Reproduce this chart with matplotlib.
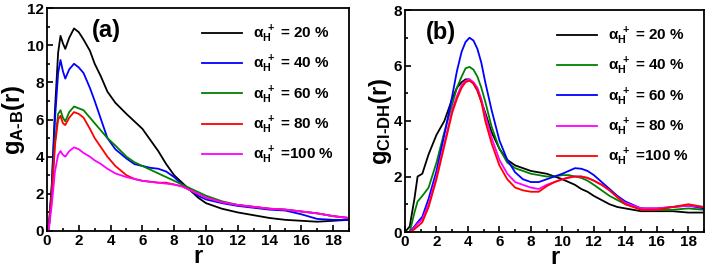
import numpy as np
import matplotlib
matplotlib.use("Agg")
import matplotlib.pyplot as plt
from matplotlib.ticker import MultipleLocator

plt.rcParams['font.family'] = ['Liberation Sans', 'DejaVu Sans']
plt.rcParams['font.weight'] = 'bold'
plt.rcParams['mathtext.fontset'] = 'custom'
plt.rcParams['mathtext.rm'] = 'Liberation Sans:bold'
plt.rcParams['mathtext.bf'] = 'Liberation Sans:bold'
plt.rcParams['mathtext.it'] = 'Liberation Sans:bold'
plt.rcParams['mathtext.default'] = 'bf'

# panel (a) data
r_a = [0, 0.1, 0.3, 0.5, 0.7, 0.85, 1.0, 1.15, 1.4, 1.7, 2.0, 2.3, 2.7, 3.0, 3.4, 3.8, 4.3, 5.0, 5.5,
       6.0, 6.5, 7.0, 7.5, 8.0, 8.5, 9.0, 9.5, 10.0, 11.0, 12.0, 13.0, 14.0, 15.0, 16.0, 17.0, 18.0, 19.0]
g_a20 = [0, 0, 2.5, 6.5, 9.6, 10.5, 10.1, 9.8, 10.4, 10.9, 10.7, 10.3, 9.7, 9.0, 8.3, 7.5, 6.9, 6.3, 5.9,
         5.5, 4.9, 4.3, 3.6, 3.0, 2.6, 2.2, 1.8, 1.5, 1.2, 1.0, 0.85, 0.7, 0.6, 0.55, 0.5, 0.55, 0.6]
g_a40 = [0, 0, 2.3, 6.0, 8.5, 9.2, 8.6, 8.2, 8.7, 9.0, 8.8, 8.5, 7.7, 7.0, 6.0, 5.0, 4.4, 3.9, 3.6,
         3.5, 3.4, 3.35, 3.2, 2.9, 2.5, 2.2, 1.9, 1.7, 1.5, 1.35, 1.25, 1.15, 1.1, 0.9, 0.65, 0.6, 0.6]
g_a60 = [0, 0, 2.0, 4.8, 6.3, 6.5, 6.1, 5.9, 6.4, 6.7, 6.6, 6.5, 6.1, 5.8, 5.4, 5.0, 4.6, 4.0, 3.7,
         3.5, 3.3, 3.1, 2.9, 2.7, 2.5, 2.3, 2.1, 1.9, 1.6, 1.4, 1.3, 1.2, 1.15, 1.05, 0.95, 0.8, 0.7]
g_a80 = [0, 0, 1.9, 4.6, 6.0, 6.2, 5.8, 5.7, 6.1, 6.4, 6.3, 6.1, 5.5, 5.0, 4.5, 4.0, 3.5, 3.0, 2.8,
         2.7, 2.65, 2.6, 2.6, 2.5, 2.4, 2.2, 2.0, 1.8, 1.55, 1.4, 1.3, 1.2, 1.15, 1.05, 0.95, 0.8, 0.7]
g_a100 = [0, 0, 1.4, 3.2, 4.1, 4.3, 4.1, 4.0, 4.3, 4.5, 4.4, 4.2, 4.0, 3.8, 3.6, 3.35, 3.1, 2.9, 2.8,
          2.7, 2.65, 2.6, 2.55, 2.5, 2.4, 2.2, 2.0, 1.8, 1.55, 1.4, 1.3, 1.2, 1.15, 1.05, 0.95, 0.8, 0.7]

# panel (b) data
r_b = [0, 0.3, 0.6, 0.8, 1.1, 1.5, 2.0, 2.5, 3.0, 3.3, 3.6, 3.85, 4.1, 4.35, 4.6, 4.85, 5.1, 5.5, 6.0,
       6.5, 7.0, 7.5, 8.0, 8.5, 9.0, 9.5, 10.0, 10.4, 10.8, 11.2, 11.6, 12.0, 12.5, 13.0, 13.5, 14.0,
       15.0, 16.0, 17.0, 18.0, 19.0]
g_b20 = [0, 0.2, 1.2, 2.0, 2.1, 2.8, 3.5, 4.0, 4.8, 5.2, 5.4, 5.5, 5.5, 5.35, 5.1, 4.7, 4.3, 3.6, 3.0,
         2.6, 2.4, 2.3, 2.2, 2.15, 2.1, 2.0, 1.9, 1.8, 1.7, 1.55, 1.45, 1.3, 1.15, 1.0, 0.9, 0.85,
         0.75, 0.75, 0.75, 0.7, 0.7]
g_b40 = [0, 0, 0.7, 1.1, 1.3, 1.6, 2.5, 3.6, 4.6, 5.2, 5.6, 5.9, 5.95, 5.85, 5.6, 5.2, 4.7, 3.8, 3.0,
         2.5, 2.3, 2.2, 2.1, 2.05, 2.0, 2.0, 2.05, 2.05, 2.0, 1.95, 1.85, 1.7, 1.5, 1.3, 1.15, 1.0,
         0.85, 0.8, 0.8, 0.85, 0.8]
g_b60 = [0, 0, 0.2, 0.35, 0.55, 1.2, 2.2, 3.5, 4.9, 5.8, 6.5, 6.85, 7.0, 6.9, 6.6, 6.1, 5.4, 4.4, 3.3,
         2.6, 2.15, 1.9, 1.8, 1.8, 1.9, 2.0, 2.1, 2.2, 2.3, 2.28, 2.2, 2.05, 1.8, 1.55, 1.3, 1.1,
         0.85, 0.85, 0.9, 0.95, 0.85]
g_b80 = [0, 0, 0.15, 0.3, 0.45, 1.0, 2.0, 3.2, 4.4, 4.9, 5.3, 5.45, 5.5, 5.4, 5.2, 4.8, 4.2, 3.4, 2.6,
         2.1, 1.8, 1.7, 1.6, 1.55, 1.7, 1.8, 1.9, 1.95, 2.0, 2.0, 1.95, 1.85, 1.7, 1.5, 1.25, 1.05,
         0.85, 0.85, 0.9, 0.95, 0.9]
g_b100 = [0, 0, 0.1, 0.2, 0.35, 0.9, 1.9, 3.1, 4.3, 4.8, 5.2, 5.4, 5.45, 5.35, 5.1, 4.7, 4.0, 3.2, 2.4,
          1.9, 1.6, 1.5, 1.45, 1.45, 1.65, 1.8, 1.9, 1.97, 2.0, 2.0, 1.95, 1.85, 1.7, 1.5, 1.25, 1.0,
          0.8, 0.8, 0.9, 1.0, 0.9]

labels = [r'$\alpha_{H}^{\ +}$ = 20 %', r'$\alpha_{H}^{\ +}$ = 40 %', r'$\alpha_{H}^{\ +}$ = 60 %',
          r'$\alpha_{H}^{\ +}$ = 80 %', r'$\alpha_{H}^{\ +}$ =100 %']

fig = plt.figure(figsize=(7.08, 2.73), dpi=100)
ax1 = fig.add_axes([47 / 708, 1 - 231 / 273, 302 / 708, 223 / 273])
ax2 = fig.add_axes([405 / 708, 1 - 232 / 273, 299 / 708, 222 / 273])

for y, c, lab in zip([g_a20, g_a40, g_a60, g_a80, g_a100],
                     ['black', 'blue', 'green', 'red', 'magenta'], labels):
    ax1.plot(r_a, y, color=c, lw=1.3, label=lab)
for y, c, lab in zip([g_b20, g_b40, g_b60, g_b80, g_b100],
                     ['black', 'green', 'blue', 'magenta', 'red'], labels):
    ax2.plot(r_b, y, color=c, lw=1.3, label=lab)

for ax, ymax, ylab, tag, tx in [(ax1, 12, r'$g_{A\text{-}B}(r)$', '(a)', 0.15),
                                (ax2, 8, r'$g_{Cl\text{-}DH}(r)$', '(b)', 0.07)]:
    ax.set_xlim(0, 19)
    ax.set_ylim(0, ymax)
    ax.xaxis.set_major_locator(MultipleLocator(2))
    ax.xaxis.set_minor_locator(MultipleLocator(1))
    ax.yaxis.set_major_locator(MultipleLocator(2))
    ax.yaxis.set_minor_locator(MultipleLocator(1))
    ax.tick_params(which='both', direction='in', width=1.2, labelsize=11, pad=2)
    ax.tick_params(which='major', length=4)
    ax.tick_params(which='minor', length=2)
    for s in ax.spines.values():
        s.set_linewidth(1.3)
    ax.set_xlabel('r', fontsize=17, fontweight='bold', labelpad=-2)
    ax.set_ylabel(ylab, fontsize=17, labelpad=0)
    ax.text(tx, 0.87, tag, transform=ax.transAxes, fontsize=17, fontweight='bold')
    ax.legend(loc='upper right', frameon=False, fontsize=11, handlelength=2.6,
              labelspacing=0.6, borderaxespad=0.6, handletextpad=0.7)

fig.savefig('out.png', dpi=100)
